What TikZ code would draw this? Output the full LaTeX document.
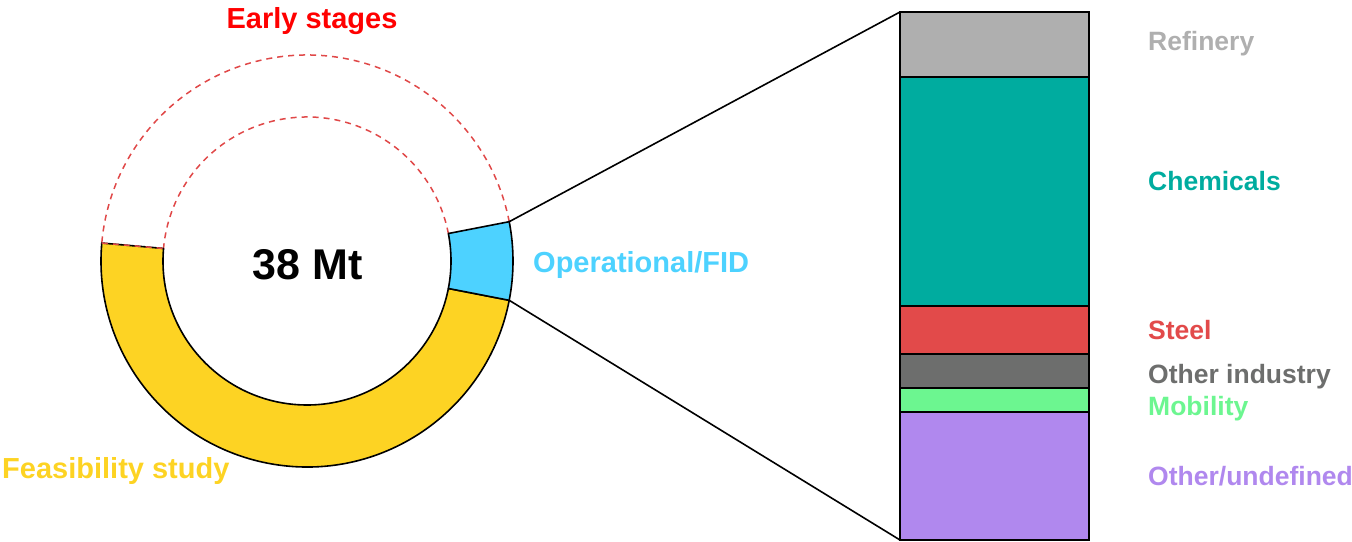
\documentclass[tikz,border=0pt]{standalone}
\usepackage{fontspec}
\setmainfont{Liberation Sans}
\usetikzlibrary{calc}
\definecolor{cRed}{HTML}{FF0000}
\definecolor{cCyan}{HTML}{4DD2FF}
\definecolor{cYellow}{HTML}{FDD323}
\definecolor{cRef}{HTML}{AFAFAF}
\definecolor{cChem}{HTML}{00AC9F}
\definecolor{cSteel}{HTML}{E24A4A}
\definecolor{cOther}{HTML}{6D6E6D}
\definecolor{cMob}{HTML}{6CF690}
\definecolor{cUnd}{HTML}{B088EE}
\definecolor{cDash}{HTML}{E04848}
\tikzset{
  lbl/.style={inner sep=0pt, font=\fontsize{29}{34}\selectfont\bfseries},
  rlbl/.style={inner sep=0pt, anchor=base west, font=\fontsize{26.5}{31}\selectfont\bfseries},
  seg/.style={draw=black, line width=1.6pt, line join=round},
  dashring/.style={draw=cDash, line width=1.5pt, dash pattern=on 6pt off 5pt},
  barseg/.style={draw=black, line width=1.6pt},
  conn/.style={draw=black, line width=1.6pt}
}
\begin{document}
\begin{tikzpicture}[x=1pt,y=1pt]
\useasboundingbox (0,0) rectangle (1352,541);
\coordinate (c) at (307,280);
% dashed early stages arcs
\draw[dashring] ($(c)+(11:206)$) arc[start angle=11, end angle=175, radius=206];
\draw[dashring] ($(c)+(11:144)$) arc[start angle=11, end angle=175, radius=144];
% yellow segment
\path[seg, fill=cYellow] ($(c)+(-11:206)$) arc[start angle=-11, end angle=-185, radius=206]
  -- ($(c)+(-185:144)$) arc[start angle=-185, end angle=-11, radius=144] -- cycle;
\draw[dashring] ($(c)+(175:206)$) -- ($(c)+(175:144)$);
% blue segment
\path[seg, fill=cCyan] ($(c)+(-11:206)$) arc[start angle=-11, end angle=11, radius=206]
  -- ($(c)+(11:144)$) arc[start angle=11, end angle=-11, radius=144] -- cycle;
\coordinate (ptop) at ($(c)+(11:206)$);
\coordinate (pbot) at ($(c)+(-11:206)$);
% bar
\path[barseg, fill=cRef] (900,464) rectangle (1089,529);
\path[barseg, fill=cChem] (900,235) rectangle (1089,464);
\path[barseg, fill=cSteel] (900,187) rectangle (1089,235);
\path[barseg, fill=cOther] (900,153) rectangle (1089,187);
\path[barseg, fill=cMob] (900,129) rectangle (1089,153);
\path[barseg, fill=cUnd] (900,1) rectangle (1089,129);
\coordinate (btop) at (900,529);
\coordinate (bbot) at (900,1);
\draw[conn] (ptop) -- (btop);
\draw[conn] (pbot) -- (bbot);
% labels
\node[lbl, text=cRed, anchor=base] (early) at (312,512.7) {Early stages};
\node[lbl, anchor=base, font=\fontsize{43}{50}\selectfont\bfseries] (mt) at (307.5,261) {38 Mt};
\node[lbl, text=cCyan, anchor=base west] (op) at (533,268) {Operational/FID};
\node[lbl, text=cYellow, anchor=base west] (feas) at (2,62.7) {Feasibility study};
\node[rlbl, text=cRef] (lref) at (1148,490.5) {Refinery};
\node[rlbl, text=cChem] (lchem) at (1148,350.5) {Chemicals};
\node[rlbl, text=cSteel] (lsteel) at (1148,201.5) {Steel};
\node[rlbl, text=cOther] (loth) at (1148,157.5) {Other industry};
\node[rlbl, text=cMob] (lmob) at (1148,125.5) {Mobility};
\node[rlbl, text=cUnd] (lund) at (1148,56) {Other/undefined};
\end{tikzpicture}
\end{document}
